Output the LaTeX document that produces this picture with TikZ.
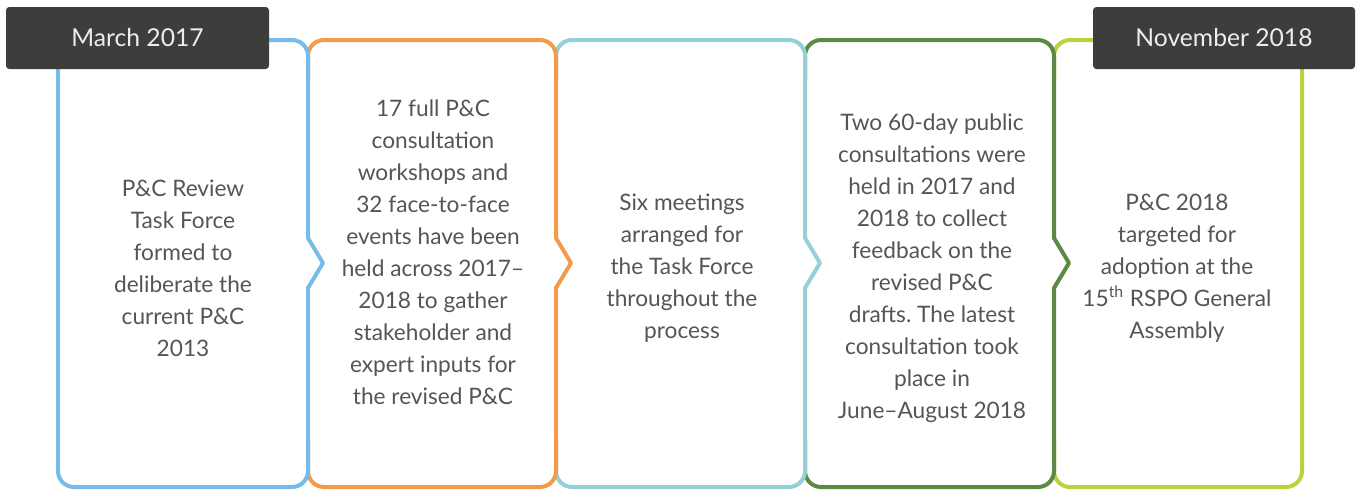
\documentclass[tikz,border=0pt]{standalone}
\usepackage{fontspec}
\setmainfont{Lato}
\frenchspacing
\definecolor{cblue}{HTML}{77BBE8}
\definecolor{corange}{HTML}{F39A4D}
\definecolor{cteal}{HTML}{93D1D6}
\definecolor{cgreen}{HTML}{5B8A45}
\definecolor{clime}{HTML}{BED03C}
\definecolor{labelbg}{HTML}{3D3D3B}
\definecolor{labeltxt}{HTML}{EDEDED}
\definecolor{bodytxt}{HTML}{555555}
\tikzset{
  boxline/.style={line width=3pt, line join=round, line cap=round},
  roundbox/.style={boxline, rounded corners=12pt},
  bodytext/.style={text=bodytxt, align=center, font=\fontsize{17}{24}\selectfont, inner sep=0pt},
  datelabel/.style={fill=labelbg, text=labeltxt, rounded corners=2.5pt, inner sep=0pt,
     font=\fontsize{18.5}{22}\selectfont},
}
\begin{document}
\begin{tikzpicture}[x=0.75pt,y=-0.75pt]
\useasboundingbox (0,0) rectangle (1356,490);
% box outlines, right to left
\draw[roundbox, clime] (1054,80) -- (1054,40) -- (1302,40) -- (1302,487) -- (1054,487) -- (1054,440);
\foreach \xl/\xr/\col in {805/1054/cgreen, 556/805/cteal, 308/556/corange}{
  \draw[roundbox, \col] (\xr,238) -- (\xr,40) -- (\xl,40) -- (\xl,80);
  \draw[boxline, \col] (\xr,238) -- (\xr+15,263) -- (\xr,288);
  \draw[roundbox, \col] (\xr,288) -- (\xr,487) -- (\xl,487) -- (\xl,440);
}
\draw[roundbox, cblue] (308,238) -- (308,40) -- (58,40) -- (58,487) -- (308,487) -- (308,288);
\draw[boxline, cblue] (308,238) -- (323,263) -- (308,288);
% date labels
\node[datelabel, minimum width=197.25pt, minimum height=46.5pt] (mar) at (137.5,38) {March 2017};
\node[datelabel, minimum width=196.5pt, minimum height=46.5pt] (nov) at (1224,38) {November 2018};
% body texts
\node[bodytext] (t1) at (183,268) {P\&C Review\\Task Force\\formed to\\deliberate the\\current P\&C\\2013};
\node[bodytext] (t2) at (433,252) {17 full P\&C\\consultation\\workshops and\\32 face-to-face\\events have been\\held across 2017–\\2018 to gather\\stakeholder and\\expert inputs for\\the revised P\&C};
\node[bodytext] (t3) at (682,268) {Six meetings\\arranged for\\the Task Force\\throughout the\\process};
\node[bodytext] (t4) at (932,268) {Two 60-day public\\consultations were\\held in 2017 and\\2018 to collect\\feedback on the\\revised P\&C\\drafts. The latest\\consultation took\\place in\\June–August 2018};
\node[bodytext] (t5) at (1177,268) {P\&C 2018\\targeted for\\adoption at the\\15\textsuperscript{th} RSPO General\\Assembly};
\end{tikzpicture}
\end{document}
